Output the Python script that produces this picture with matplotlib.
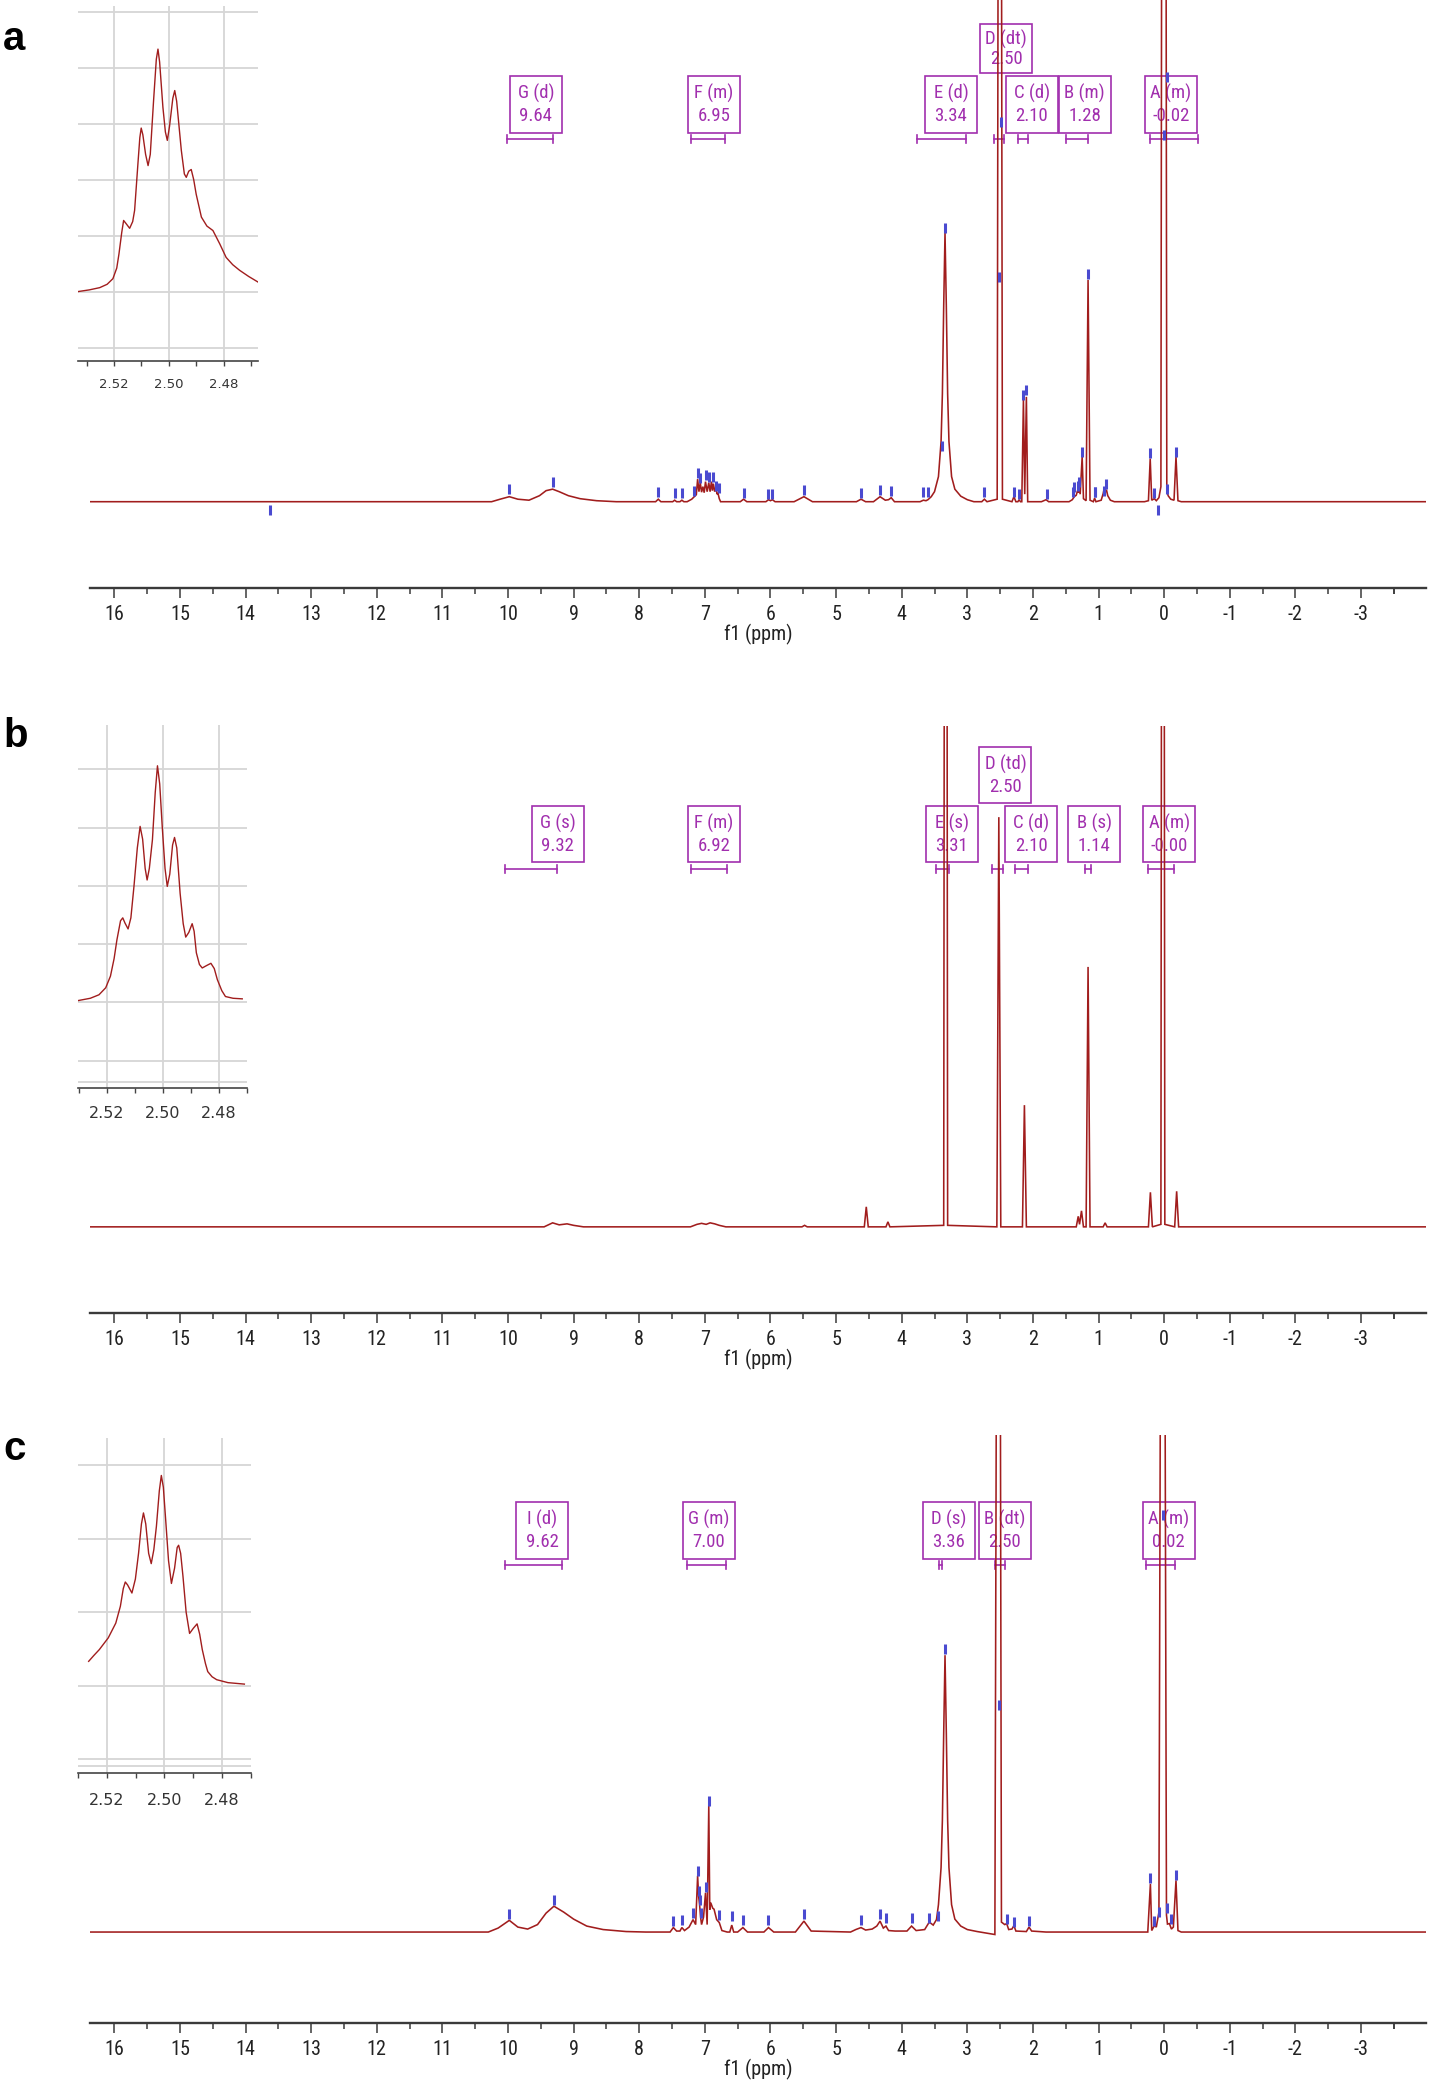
import matplotlib
matplotlib.use('Agg')
import matplotlib.pyplot as plt
from matplotlib.patches import Rectangle
from matplotlib.transforms import blended_transform_factory
from matplotlib import font_manager as fm

plt.rcParams['axes.unicode_minus'] = False

# ------------------------------------------------------------------ data
# main spectra: (ppm, intensity) ; intensity 100 = top of the plot area
spec_a = [(16.37, 0), (10.25, 0), (10.12, 0.5), (9.98, 1.0), (9.85, 0.5), (9.68, 0.3), (9.52, 1.2),
          (9.42, 2.2), (9.32, 2.5), (9.22, 2.0), (9.08, 1.2), (8.90, 0.6), (8.65, 0.2), (8.35, 0),
          (7.75, 0), (7.71, 0.5), (7.67, 0), (7.49, 0), (7.46, 0.3), (7.43, 0), (7.38, 0), (7.35, 0.3),
          (7.32, 0), (7.27, 0), (7.20, 0.5), (7.16, 1.0), (7.13, 1.4), (7.11, 4.5), (7.09, 2.0),
          (7.07, 3.8), (7.05, 1.9), (7.03, 3.0), (7.01, 1.8), (6.99, 4.0), (6.965, 2.0), (6.94, 3.8),
          (6.92, 2.0), (6.90, 4.0), (6.885, 2.2), (6.87, 3.6), (6.85, 2.0), (6.83, 3.0), (6.815, 1.5),
          (6.80, 1.7), (6.78, 0.6), (6.76, 0), (6.46, 0), (6.41, 0.5), (6.36, 0), (6.07, 0), (6.03, 0.4),
          (6.00, 0.2), (5.97, 0.4), (5.93, 0), (5.64, 0), (5.49, 1.0), (5.36, 0), (4.69, 0), (4.62, 0.5),
          (4.55, 0), (4.43, 0), (4.33, 1.0), (4.25, 0.3), (4.20, 0.4), (4.16, 0.8), (4.11, 0),
          (3.72, 0), (3.67, 0.3), (3.63, 0.2), (3.60, 0.4), (3.55, 1.0), (3.50, 2.0), (3.44, 5.0),
          (3.40, 12), (3.38, 21.5), (3.36, 39), (3.34, 53.6), (3.32, 39), (3.30, 21.5), (3.28, 12),
          (3.24, 5.0), (3.19, 2.5), (3.10, 1.1), (3.00, 0.4), (2.90, 0), (2.78, 0), (2.74, 0.5),
          (2.70, 0), (2.545, 0.5), (2.52, 200), (2.49, 200), (2.465, 0.5), (2.32, 0), (2.29, 1.0),
          (2.26, 0), (2.23, 0), (2.21, 0.4), (2.19, 0), (2.17, 0), (2.145, 20.3), (2.125, 1.5),
          (2.10, 20.9), (2.08, 0), (1.87, 0), (1.80, 0.4), (1.76, 0), (1.45, 0), (1.40, 0.4),
          (1.37, 1.0), (1.34, 1.3), (1.32, 2.2), (1.31, 1.8), (1.30, 2.8), (1.28, 1.5), (1.25, 9.0),
          (1.23, 0.6), (1.19, 0.2), (1.16, 44.2), (1.13, 0.3), (1.08, 0), (1.06, 0.7), (1.04, 0),
          (0.96, 0.3), (0.93, 1.6), (0.915, 2.6), (0.90, 1.8), (0.88, 2.4), (0.86, 1.2), (0.82, 0.3),
          (0.76, 0), (0.30, 0), (0.24, 0.2), (0.213, 8.6), (0.19, 0.3), (0.15, 0.6), (0.12, 0.2),
          (0.08, 0.8), (0.05, 3.0), (0.03, 200), (-0.02, 200), (-0.04, 2.5), (-0.06, 1.2),
          (-0.10, 0.5), (-0.15, 0.3), (-0.18, 9.0), (-0.21, 0.2), (-0.26, 0), (-3.99, 0)]

spec_b = [(16.37, 0), (9.45, 0), (9.32, 0.8), (9.22, 0.4), (9.10, 0.6), (9.00, 0.3), (8.85, 0),
          (7.22, 0), (7.12, 0.5), (7.05, 0.7), (6.98, 0.5), (6.92, 0.8), (6.85, 0.6), (6.78, 0.3),
          (6.68, 0), (5.52, 0), (5.48, 0.3), (5.44, 0), (4.57, 0), (4.54, 4.0), (4.51, 0), (4.24, 0),
          (4.21, 1.0), (4.18, 0), (3.36, 0.3), (3.345, 200), (3.315, 200), (3.30, 0.3), (2.55, 0),
          (2.52, 81.8), (2.49, 0), (2.16, 0), (2.13, 24.3), (2.10, 0), (1.34, 0), (1.31, 2.1),
          (1.29, 0.5), (1.26, 3.2), (1.23, 0), (1.19, 0), (1.16, 51.9), (1.13, 0), (0.93, 0),
          (0.90, 0.8), (0.87, 0), (0.24, 0), (0.21, 6.9), (0.18, 0), (0.05, 0.5), (0.035, 200),
          (0.005, 200), (-0.01, 0.5), (-0.16, 0), (-0.19, 7.1), (-0.22, 0), (-3.99, 0)]

spec_c = [(16.37, 0), (10.30, 0), (10.15, 0.8), (9.98, 2.35), (9.85, 1.0), (9.70, 0.6), (9.55, 1.5),
          (9.42, 3.8), (9.30, 5.2), (9.15, 4.0), (9.00, 2.6), (8.80, 1.2), (8.55, 0.5), (8.20, 0.1),
          (7.90, 0), (7.53, 0), (7.48, 0.9), (7.43, 0.2), (7.38, 0.2), (7.35, 0.9), (7.31, 0.3),
          (7.24, 1.0), (7.18, 2.5), (7.14, 1.5), (7.11, 11.3), (7.095, 7.2), (7.08, 5.5), (7.065, 3.0),
          (7.05, 1.5), (7.02, 3.0), (6.99, 7.9), (6.965, 1.5), (6.94, 25.4), (6.925, 4.5), (6.91, 5.9),
          (6.88, 4.8), (6.86, 4.6), (6.82, 2.5), (6.78, 1.9), (6.74, 0.3), (6.66, 0), (6.62, 0),
          (6.59, 1.4), (6.56, 0), (6.50, 0), (6.42, 0.9), (6.35, 0), (6.10, 0), (6.03, 0.9), (5.95, 0),
          (5.62, 0), (5.49, 2.2), (5.38, 0.2), (4.78, 0), (4.70, 0.5), (4.62, 0.9), (4.55, 0.4),
          (4.45, 0.6), (4.38, 1.2), (4.33, 2.2), (4.28, 0.8), (4.24, 1.2), (4.20, 0.3), (4.10, 0.2),
          (3.92, 0.2), (3.85, 1.2), (3.78, 0.3), (3.65, 0.5), (3.58, 2.0), (3.52, 1.4), (3.47, 2.5),
          (3.44, 5.5), (3.40, 13), (3.38, 22.5), (3.36, 40), (3.34, 55.7), (3.32, 40), (3.30, 22.5),
          (3.28, 13), (3.24, 5.5), (3.19, 2.6), (3.10, 1.2), (3.00, 0.5), (2.85, 0.1), (2.58, -0.5),
          (2.54, 200), (2.51, 200), (2.48, 2.0), (2.43, 1.5), (2.40, 1.7), (2.37, 0.5), (2.32, 0.6),
          (2.29, 1.3), (2.26, 0.2), (2.10, 0.1), (2.06, 1.0), (2.02, 0.2), (1.80, 0), (0.25, 0),
          (0.21, 9.7), (0.19, 0.3), (0.15, 1.3), (0.12, 1.0), (0.08, 4.0), (0.04, 200), (0.005, 200),
          (-0.035, 3.4), (-0.05, 1.6), (-0.08, 1.7), (-0.11, 0.6), (-0.14, 1.0), (-0.18, 10.4),
          (-0.21, 0.3), (-0.26, 0), (-3.99, 0)]

# peak-picking marks (ppm, height)
picks_a = [(13.62, -1.7), (9.98, 2.5), (9.32, 3.9), (7.71, 1.9), (7.46, 1.7), (7.35, 1.7),
           (7.16, 2.2), (7.11, 5.8), (7.07, 4.7), (6.99, 5.4), (6.93, 4.9), (6.88, 4.9), (6.83, 3.2),
           (6.79, 2.7), (6.41, 1.8), (6.03, 1.6), (5.97, 1.6), (5.49, 2.3), (4.62, 1.8), (4.33, 2.3),
           (4.16, 2.1), (3.67, 1.9), (3.60, 1.9), (3.39, 11.2), (3.34, 54.5), (2.74, 2.0), (2.51, 44.7),
           (2.48, 75.7), (2.29, 2.0), (2.21, 1.5), (2.145, 21.2), (2.10, 22.2), (1.78, 1.5),
           (1.39, 1.9), (1.37, 2.9), (1.32, 3.2), (1.30, 3.9), (1.25, 10.0), (1.16, 45.3),
           (1.06, 1.9), (1.05, 1.9), (0.91, 2.2), (0.88, 3.6), (0.21, 9.8), (0.15, 1.7),
           (0.10, -1.7), (-0.05, 2.6), (-0.18, 10.0), (-0.05, 84.7), (0.0, 73.0)]
picks_c = [(9.98, 3.6), (9.30, 6.5), (7.48, 2.3), (7.35, 2.5), (7.18, 3.9), (7.11, 12.3), (7.09, 8.3),
           (7.08, 6.4), (7.06, 3.8), (6.99, 9.0), (6.94, 26.4), (6.78, 3.4), (6.59, 3.2), (6.42, 2.5),
           (6.03, 2.5), (5.49, 3.6), (4.62, 2.5), (4.33, 3.6), (4.24, 2.8), (3.85, 2.8), (3.58, 2.9),
           (3.44, 3.3), (3.34, 56.9), (2.52, 45.7), (2.40, 2.6), (2.29, 2.1), (2.06, 2.3), (0.21, 10.9),
           (0.15, 2.3), (0.08, 4.0), (-0.05, 4.8), (-0.11, 2.6), (-0.18, 11.4), (0.02, 84.0)]

# multiplet annotations
names_a = ['G (d)', 'F (m)', 'E (d)', 'D (dt)', 'C (d)', 'B (m)', 'A (m)']
shifts_a = ['9.64', '6.95', '3.34', '2.50', '2.10', '1.28', '-0.02']
ranges_a = [(10.02, 9.31), (7.21, 6.70), (3.77, 3.02), (2.60, 2.44), (2.23, 2.07), (1.49, 1.16), (0.21, -0.52)]

names_b = ['G (s)', 'F (m)', 'E (s)', 'D (td)', 'C (d)', 'B (s)', 'A (m)']
shifts_b = ['9.32', '6.92', '3.31', '2.50', '2.10', '1.14', '-0.00']
ranges_b = [(10.04, 9.25), (7.21, 6.66), (3.48, 3.28), (2.62, 2.45), (2.27, 2.08), (1.20, 1.12), (0.25, -0.15)]

names_c = ['I (d)', 'G (m)', 'D (s)', 'B (dt)', 'A (m)']
shifts_c = ['9.62', '7.00', '3.36', '2.50', '0.02']
ranges_c = [(10.04, 9.17), (7.27, 6.68), (3.43, 3.39), (2.58, 2.42), (0.27, -0.17)]

# insets: DMSO multiplet expansion (ppm, intensity)
inset_a = [(2.5331, 0.0), (2.5290, 0.03), (2.5252, 0.07), (2.5225, 0.13), (2.5204, 0.23), (2.5190, 0.42),
           (2.5182, 0.67), (2.5172, 1.05), (2.5165, 1.27), (2.5157, 1.22), (2.5143, 1.13), (2.5132, 1.25),
           (2.5125, 1.45), (2.5113, 2.28), (2.5106, 2.75), (2.5101, 2.92), (2.5095, 2.80), (2.5085, 2.45),
           (2.5076, 2.25), (2.5068, 2.45), (2.5056, 3.41), (2.5046, 4.15), (2.5040, 4.33), (2.5034, 4.10),
           (2.5022, 3.29), (2.5013, 2.85), (2.5006, 2.70), (2.4998, 2.95), (2.4986, 3.45), (2.4979, 3.59),
           (2.4972, 3.40), (2.4955, 2.52), (2.4944, 2.10), (2.4937, 2.04), (2.4928, 2.15), (2.4919, 2.18),
           (2.4910, 2.00), (2.4901, 1.74), (2.4882, 1.33), (2.4862, 1.17), (2.4840, 1.09), (2.4815, 0.85),
           (2.4792, 0.61), (2.4768, 0.48), (2.4743, 0.38), (2.4710, 0.27), (2.4676, 0.17)]
inset_b = [(2.5304, 0.03), (2.5260, 0.07), (2.5229, 0.13), (2.5205, 0.25), (2.5188, 0.45), (2.5175, 0.75),
           (2.5165, 1.07), (2.5152, 1.40), (2.5144, 1.45), (2.5136, 1.36), (2.5125, 1.26), (2.5115, 1.45),
           (2.5104, 1.99), (2.5092, 2.65), (2.5082, 3.02), (2.5073, 2.80), (2.5064, 2.30), (2.5057, 2.10),
           (2.5049, 2.30), (2.5038, 2.79), (2.5028, 3.60), (2.5020, 4.06), (2.5012, 3.75), (2.5003, 3.02),
           (2.4993, 2.30), (2.4985, 1.99), (2.4976, 2.20), (2.4966, 2.70), (2.4959, 2.83), (2.4951, 2.65),
           (2.4939, 1.87), (2.4928, 1.35), (2.4919, 1.12), (2.4908, 1.20), (2.4896, 1.35), (2.4889, 1.22),
           (2.4881, 0.85), (2.4870, 0.65), (2.4860, 0.59), (2.4845, 0.63), (2.4829, 0.67), (2.4817, 0.58),
           (2.4806, 0.39), (2.4790, 0.20), (2.4777, 0.10), (2.4750, 0.07), (2.4717, 0.06)]
inset_c = [(2.5263, 0.33), (2.5245, 0.41), (2.5226, 0.49), (2.5195, 0.65), (2.5169, 0.85), (2.5153, 1.08),
           (2.5143, 1.32), (2.5136, 1.41), (2.5128, 1.37), (2.5113, 1.26), (2.5101, 1.45), (2.5090, 1.80),
           (2.5080, 2.20), (2.5073, 2.35), (2.5065, 2.20), (2.5055, 1.80), (2.5046, 1.66), (2.5037, 1.85),
           (2.5028, 2.17), (2.5018, 2.65), (2.5011, 2.86), (2.5004, 2.70), (2.4996, 2.26), (2.4986, 1.70),
           (2.4976, 1.39), (2.4965, 1.60), (2.4956, 1.88), (2.4951, 1.91), (2.4944, 1.80), (2.4936, 1.49),
           (2.4925, 1.00), (2.4913, 0.71), (2.4900, 0.78), (2.4887, 0.84), (2.4878, 0.70), (2.4869, 0.49),
           (2.4858, 0.30), (2.4850, 0.19), (2.4835, 0.12), (2.4819, 0.08), (2.4780, 0.04), (2.4723, 0.02)]

main_ticks = list(range(16, -4, -1))
main_ticklabels = [str(t) for t in main_ticks]
inset_ticks = [2.52, 2.50, 2.48]
inset_ticklabels = ['2.52', '2.50', '2.48']

# ------------------------------------------------------------------ style / layout
W, H = 1430, 2080
RED = '#a11d1d'
PURPLE = '#a12fae'
BLUE = '#4a4ad0'
GRID = '#d6d6d6'

# pick a narrow sans family if one is installed (reference uses a narrow UI font)
_fonts = fm.fontManager.ttflist
_names = {f.name for f in _fonts}
if 'Liberation Sans Narrow' in _names:
    LBL = dict(family=['Liberation Sans Narrow', 'DejaVu Sans'])
    BOX_FS, TICK_FS = 13, 14
elif 'Roboto Condensed' in _names:
    LBL = dict(family=['Roboto Condensed', 'DejaVu Sans'])
    BOX_FS, TICK_FS = 13.5, 14.5
elif any(f.name == 'DejaVu Sans' and str(f.stretch).lower() in ('condensed', 'semi-condensed')
         for f in _fonts):
    LBL = dict(family=['DejaVu Sans'], fontstretch='condensed')
    BOX_FS, TICK_FS = 11.5, 12.5
else:
    LBL = dict(family=['DejaVu Sans'])
    BOX_FS, TICK_FS = 11, 12.5

fig = plt.figure(figsize=(W / 100, H / 100), dpi=100)


def px_rect(x0, y0, x1, y1):
    return [x0 / W, 1 - y1 / H, (x1 - x0) / W, (y1 - y0) / H]


def draw_main(rect, spec, ylim, picks, names, shifts, ranges, centers, rows, row_frac, bar_y):
    ax = fig.add_axes(rect)
    ax.patch.set_visible(False)
    x, y = zip(*spec)
    ax.plot(x, y, color=RED, lw=1.15, zorder=3, solid_joinstyle='miter')
    if picks:
        px, py = zip(*picks)
        ax.plot(px, py, ls='none', marker='|', ms=6.5, mew=2.2, color=BLUE, zorder=4)
    ax.set_xlim(16.37, -3.99)
    ax.set_ylim(*ylim)
    for s in ['top', 'left', 'right']:
        ax.spines[s].set_visible(False)
    ax.spines['bottom'].set_color('#3a3a3a')
    ax.spines['bottom'].set_linewidth(1.7)
    ax.set_yticks([])
    ax.set_xticks(main_ticks)
    ax.set_xticklabels(main_ticklabels, fontsize=TICK_FS, color='#222222', **LBL)
    ax.set_xticks([t - 0.5 for t in main_ticks] + [-3.5], minor=True)
    ax.tick_params(axis='x', which='major', direction='out', length=7, width=1.1,
                   color='#3a3a3a', pad=5)
    ax.tick_params(axis='x', which='minor', direction='out', length=4.5, width=1.1,
                   color='#3a3a3a')
    ax.set_xlabel('f1 (ppm)', fontsize=TICK_FS, color='#222222', labelpad=0, **LBL)

    tr = blended_transform_factory(ax.transData, ax.transAxes)
    bw = 0.79
    for nm, sh, rg, c, r in zip(names, shifts, ranges, centers, rows):
        b0, b1 = row_frac[r]
        hgt = b1 - b0
        ax.add_patch(Rectangle((c - bw / 2, b0), bw, hgt, transform=tr, fill=False,
                               ec=PURPLE, lw=1.2, zorder=2, clip_on=False))
        ax.text(c, b1 - 0.31 * hgt, nm, transform=tr, ha='center', va='center',
                color=PURPLE, fontsize=BOX_FS, zorder=2, **LBL)
        ax.text(c, b1 - 0.71 * hgt, sh, transform=tr, ha='center', va='center',
                color=PURPLE, fontsize=BOX_FS, zorder=2, **LBL)
        ax.plot([rg[0], rg[1]], [bar_y, bar_y], transform=tr, color=PURPLE, lw=1.2,
                zorder=2, clip_on=False)
        for e in rg:
            ax.plot([e, e], [bar_y - 0.0065, bar_y + 0.0065], transform=tr, color=PURPLE,
                    lw=1.2, zorder=2, clip_on=False)
    return ax


def draw_inset(rect, pts, xlim, ylim, grid_y, fs, pad):
    ax = fig.add_axes(rect)
    ax.patch.set_visible(False)
    x, y = zip(*pts)
    ax.plot(x, y, color=RED, lw=1.0, zorder=3, solid_joinstyle='round')
    ax.set_xlim(*xlim)
    ax.set_ylim(*ylim)
    for g in grid_y:
        ax.axhline(g, color=GRID, lw=1.3, zorder=1)
    for g in inset_ticks:
        ax.axvline(g, color=GRID, lw=1.3, zorder=1)
    for s in ['top', 'left', 'right']:
        ax.spines[s].set_visible(False)
    ax.spines['bottom'].set_color('#444444')
    ax.spines['bottom'].set_linewidth(1.2)
    ax.set_yticks([])
    ax.set_xticks(inset_ticks)
    ax.set_xticklabels(inset_ticklabels, fontsize=fs, color='#333333')
    ax.set_xticks([2.53, 2.51, 2.49, 2.47], minor=True)
    ax.tick_params(axis='x', which='both', direction='out', length=3.5, width=1.0,
                   color='#444444', pad=pad)
    return ax


# panel a
draw_main(px_rect(90, 0, 1426, 588), spec_a, (-17.2, 100), picks_a, names_a, shifts_a, ranges_a,
          [9.575, 6.86, 3.25, 2.41, 2.02, 1.21, -0.10], [0, 0, 0, 1, 0, 0, 0],
          {0: (0.7743, 0.8714), 1: (0.8759, 0.9594)}, 0.7631)
# panel b
draw_main(px_rect(90, 726, 1426, 1313), spec_b, (-17.2, 100), None, names_b, shifts_b, ranges_b,
          [9.24, 6.86, 3.235, 2.42, 2.025, 1.067, -0.076], [0, 0, 0, 1, 0, 0, 0],
          {0: (0.7688, 0.8637), 1: (0.8683, 0.9637)}, 0.7564)
# panel c
draw_main(px_rect(90, 1435, 1426, 2023), spec_c, (-18.3, 100), picks_c, names_c, shifts_c, ranges_c,
          [9.48, 6.94, 3.28, 2.43, -0.07], [0, 0, 0, 0, 0],
          {0: (0.7896, 0.8867)}, 0.7789)

# insets
draw_inset(px_rect(78, 6, 258, 361), inset_a, (2.5331, 2.4676), (-1.24, 5.1),
           [-1, 0, 1, 2, 3, 4, 5], 9.5, 8.5)
draw_inset(px_rect(78, 725, 247, 1088), inset_b, (2.5304, 2.4717), (-1.47, 4.76),
           [-1.36, -1, 0, 1, 2, 3, 4], 11.5, 9.5)
draw_inset(px_rect(78, 1438, 251, 1773), inset_c, (2.5263, 2.4723), (-1.19, 3.37),
           [-1.1, -1, 0, 1, 2, 3], 11.5, 11)

# panel letters
for letter, ybase in [('a', 50), ('b', 747), ('c', 1460)]:
    fig.text(3 / W, 1 - ybase / H, letter, fontsize=29, fontweight='bold',
             family=['Liberation Sans', 'DejaVu Sans'], ha='left', va='baseline', color='black')

fig.savefig('out.png', dpi=100, facecolor='white')
